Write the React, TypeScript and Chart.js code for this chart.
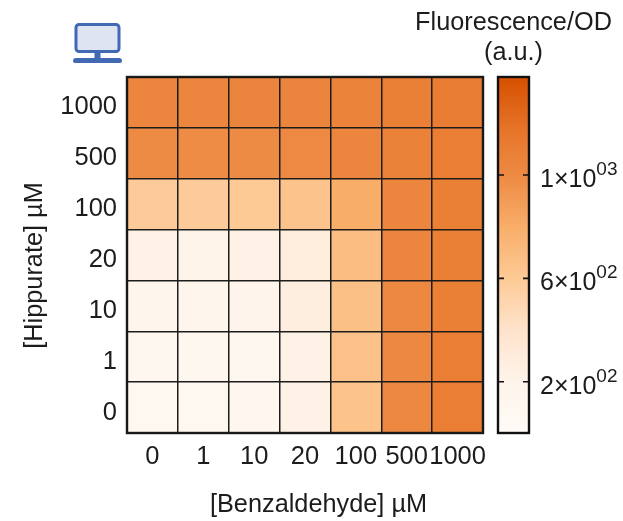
import React, { useEffect, useRef } from "react";
import { Chart, registerables } from "chart.js";

Chart.register(...registerables);

const benzaldehyde = ["0", "1", "10", "20", "100", "500", "1000"];
const hippurate = ["1000", "500", "100", "20", "10", "1", "0"];

const row1000 = [1040, 1040, 1050, 1050, 1060, 1090, 1110];
const row500 = [1000, 990, 1000, 1010, 1040, 1070, 1100];
const row100 = [590, 590, 600, 640, 800, 1030, 1090];
const row20 = [220, 200, 220, 290, 690, 1030, 1090];
const row10 = [170, 170, 190, 270, 670, 1020, 1090];
const row1 = [110, 110, 120, 220, 660, 1020, 1100];
const row0 = [100, 100, 130, 230, 650, 1020, 1100];
const rowsBottomUp = [row0, row1, row10, row20, row100, row500, row1000];

const scaleMin = 2;
const scaleMax = 1379;
const colorTicks = [200, 600, 1000];
const colorTickBases = ["2×10", "6×10", "1×10"];
const colorTickExponents = ["02", "02", "03"];

const stopValues = [2, 200, 400, 600, 800, 1000, 1150, 1379];
const stopColors = ["#fffbf7", "#fef4ea", "#fee3cb", "#fdca96", "#f8ad69", "#ed8a43", "#e8782e", "#d65000"];

const FONT = "'Liberation Sans', Arial, sans-serif";
const INK = "#1c1c1c";

function hexRgb(h: string) {
  return [1, 3, 5].map((i) => parseInt(h.slice(i, i + 2), 16));
}

function colorFor(v: number) {
  let i = 0;
  while (i < stopValues.length - 2 && v > stopValues[i + 1]) i++;
  const t = Math.min(1, Math.max(0, (v - stopValues[i]) / (stopValues[i + 1] - stopValues[i])));
  const a = hexRgb(stopColors[i]);
  const b = hexRgb(stopColors[i + 1]);
  const c = a.map((x, k) => Math.round(x + (b[k] - x) * t));
  return `rgb(${c[0]},${c[1]},${c[2]})`;
}

const frame = {
  id: "frame",
  afterDatasetsDraw(chart: any) {
    const { ctx, chartArea: a } = chart;
    ctx.save();
    ctx.strokeStyle = "#111";
    ctx.lineWidth = 2.4;
    ctx.strokeRect(a.left, a.top, a.right - a.left, a.bottom - a.top);
    ctx.restore();
  },
};

const heatTitles = {
  id: "heatTitles",
  afterDraw(chart: any) {
    const { ctx } = chart;
    ctx.save();
    ctx.fillStyle = INK;
    ctx.font = `25.3px ${FONT}`;
    ctx.textAlign = "center";
    ctx.textBaseline = "alphabetic";
    ctx.fillText("[Benzaldehyde] µM", 318.5, 512);
    ctx.translate(42, 265.5);
    ctx.rotate(-Math.PI / 2);
    ctx.fillText("[Hippurate] µM", 0, 0);
    ctx.restore();
  },
};

const barDecor = {
  id: "barDecor",
  afterDatasetsDraw(chart: any) {
    const { ctx, chartArea: a, scales } = chart;
    ctx.save();
    ctx.strokeStyle = "#111";
    ctx.lineWidth = 1.6;
    ctx.fillStyle = INK;
    ctx.textBaseline = "alphabetic";
    colorTicks.forEach((v, i) => {
      const y = scales.y.getPixelForValue(v);
      ctx.beginPath();
      ctx.moveTo(a.left, y);
      ctx.lineTo(a.left + 6, y);
      ctx.moveTo(a.right - 6, y);
      ctx.lineTo(a.right, y);
      ctx.stroke();
      ctx.textAlign = "left";
      ctx.font = `25px ${FONT}`;
      ctx.fillText(colorTickBases[i], 540, y + 12);
      const w = ctx.measureText(colorTickBases[i]).width;
      ctx.font = `19px ${FONT}`;
      ctx.fillText(colorTickExponents[i], 540 + w, y);
    });
    ctx.font = `25.3px ${FONT}`;
    ctx.textAlign = "center";
    const cx = (a.left + a.right) / 2;
    ctx.fillText("Fluorescence/OD", cx, 30);
    ctx.fillText("(a.u.)", cx, 60);
    ctx.restore();
  },
};

export default function App() {
  const heatRef = useRef<HTMLCanvasElement>(null);
  const barRef = useRef<HTMLCanvasElement>(null);

  useEffect(() => {
    const heat = new Chart(heatRef.current!, {
      type: "bar",
      data: {
        labels: benzaldehyde,
        datasets: rowsBottomUp.map((row) => ({
          data: row.map(() => 1),
          backgroundColor: row.map(colorFor),
          borderWidth: 0,
          barPercentage: 1,
          categoryPercentage: 1,
          stack: "rows",
        })),
      },
      options: {
        animation: false,
        responsive: false,
        layout: { padding: { left: 0, right: 140, top: 77, bottom: 0 } },
        plugins: { legend: { display: false }, tooltip: { enabled: false } },
        scales: {
          x: {
            stacked: true,
            offset: true,
            grid: { offset: true, color: INK, lineWidth: 1.5, z: 1, drawTicks: false },
            border: { display: false },
            ticks: { color: INK, font: { size: 25.5, family: FONT }, padding: 9, maxRotation: 0, autoSkip: false },
            afterFit: (s: any) => { s.height = 88; },
          },
          y: {
            stacked: true,
            min: 0,
            max: 7,
            position: "left",
            grid: { color: INK, lineWidth: 1.5, z: 1, drawTicks: false },
            border: { display: false },
            ticks: { display: false, stepSize: 1 },
            afterFit: (s: any) => { s.width = 0; },
          },
          yLabels: {
            type: "category",
            labels: hippurate,
            offset: true,
            position: "left",
            grid: { display: false, drawTicks: false },
            border: { display: false },
            ticks: { color: INK, font: { size: 25.5, family: FONT }, padding: 10, labelOffset: 5, autoSkip: false },
            afterFit: (s: any) => { s.width = 127; },
          },
        },
      } as any,
      plugins: [frame, heatTitles],
    });

    const bar = new Chart(barRef.current!, {
      type: "bar",
      data: {
        labels: ["Fluorescence/OD"],
        datasets: [
          {
            data: [[scaleMin, scaleMax]],
            backgroundColor: (c: any) => {
              const { chart } = c;
              const a = chart.chartArea;
              if (!a) return stopColors[0];
              const g = chart.ctx.createLinearGradient(0, a.bottom, 0, a.top);
              stopValues.forEach((v, i) => {
                g.addColorStop((v - scaleMin) / (scaleMax - scaleMin), stopColors[i]);
              });
              return g;
            },
            borderWidth: 0,
            barPercentage: 1,
            categoryPercentage: 1,
          },
        ],
      },
      options: {
        animation: false,
        responsive: false,
        layout: { padding: { left: 498, right: 0, top: 0, bottom: 88 } },
        plugins: { legend: { display: false }, tooltip: { enabled: false } },
        scales: {
          x: {
            position: "top",
            grid: { display: false, drawTicks: false },
            border: { display: false },
            ticks: { display: false },
            afterFit: (s: any) => { s.height = 77; },
          },
          y: {
            position: "right",
            min: scaleMin,
            max: scaleMax,
            grid: { display: false, drawTicks: false },
            border: { display: false },
            ticks: { display: false },
            afterFit: (s: any) => { s.width = 94; },
          },
        },
      } as any,
      plugins: [frame, barDecor],
    });

    return () => {
      heat.destroy();
      bar.destroy();
    };
  }, []);

  const layer: React.CSSProperties = { position: "absolute", left: 0, top: 0, display: "block" };

  return (
    <div style={{ position: "absolute", left: 0, top: 0, width: 623, height: 521, background: "#fff" }}>
      <canvas ref={heatRef} width={623} height={521} style={layer} />
      <canvas ref={barRef} width={623} height={521} style={layer} />
      <svg width={623} height={521} style={{ ...layer, pointerEvents: "none" }}>
        <rect x={76} y={24.5} width={43} height={27} rx={3} fill="#dfe4f1" stroke="#4169b4" strokeWidth={3} />
        <rect x={94.5} y={53} width={6} height={6} fill="#4169b4" />
        <path d="M76 58 H119 Q122 58 122 61 Q122 63 120 63 H75 Q73 63 73 61 Q73 58 76 58 Z" fill="#4169b4" />
      </svg>
    </div>
  );
}
